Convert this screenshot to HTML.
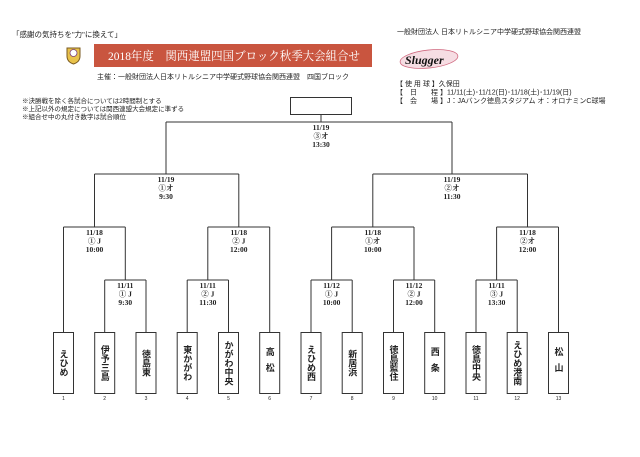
<!DOCTYPE html>
<html><head><meta charset="utf-8"><style>
body{margin:0;background:#fff;}
svg text{font-family:"Liberation Sans","Noto Sans CJK JP",sans-serif;fill:#222;}
.s{font-family:"Liberation Serif","Noto Serif CJK SC",serif !important;font-weight:bold;font-size:7.5px;}
.t{font-weight:bold;font-size:9px;}
</style></head><body>
<svg width="640" height="452" viewBox="0 0 640 452" xmlns="http://www.w3.org/2000/svg">
<rect width="640" height="452" fill="#fff"/>
<text x="12" y="37" font-size="7.5">「感謝の気持ちを"力"に換えて」</text>
<text x="397" y="34" font-size="7">一般財団法人 日本リトルシニア中学硬式野球協会関西連盟</text>
<path d="M67 48 h13 v8 q0 6 -6.5 8 q-6.5 -2 -6.5 -8z" fill="#e8c24a" stroke="#7a5a20" stroke-width="1"/>
<circle cx="73.5" cy="53" r="3.5" fill="#fff" stroke="#7a3a7a" stroke-width="0.8"/>
<rect x="94" y="44" width="278" height="23" fill="#c9553f"/>
<text x="108" y="60" font-size="12" textLength="252" lengthAdjust="spacingAndGlyphs" style="fill:#fff;font-family:'Liberation Serif','Noto Serif CJK SC',serif">2018年度　関西連盟四国ブロック秋季大会組合せ</text>
<text x="97" y="79" font-size="7">主催：一般財団法人日本リトルシニア中学硬式野球協会関西連盟　四国ブロック</text>
<ellipse cx="429" cy="59" rx="29" ry="9" fill="#f6dde3" stroke="#d06a80" stroke-width="0.8" transform="rotate(-6 429 59)"/>
<text x="405" y="64" font-size="12" style="font-style:italic;font-weight:bold;fill:#111;font-family:'Liberation Serif',serif">Slugger</text>
<text x="396" y="86" font-size="7">【 使 用 球 】久保田</text>
<text x="396" y="94.5" font-size="7">【　日　　程 】11/11(土)･11/12(日)･11/18(土)･11/19(日)</text>
<text x="396" y="103" font-size="7">【　会　　場 】J：JAバンク徳島スタジアム オ：オロナミンC球場</text>
<text x="22" y="103" font-size="6.5">※決勝戦を除く各試合については2時間制とする</text>
<text x="22" y="111" font-size="6.5">※上記以外の規定については関西連盟大会規定に準ずる</text>
<text x="22" y="119" font-size="6.5">※組合せ中の丸付き数字は試合順位</text>

<g stroke="#333" stroke-width="1" fill="none">
<rect x="290.5" y="97.5" width="61" height="17"/>
<path d="M321 115 V122 M166 122 H452 M166 122 V174 M452 122 V174"/>
<path d="M94.5 174 H238.8 M372.8 174 H527.5 M94.5 174 V227 M238.8 174 V227 M372.8 174 V227 M527.5 174 V227"/>
<path d="M63.5 227 H125.3 M207.8 227 H269.7 M331.6 227 H414 M496.6 227 H558.5"/>
<path d="M125.3 227 V280 M207.8 227 V280 M331.6 227 V280 M414 227 V280 M496.6 227 V280"/>
<path d="M104.7 280 H146 M187.2 280 H228.5 M311 280 H352.2 M393.5 280 H434.7 M476 280 H517.2"/>
<path d="M63.5 227 V332 M269.7 227 V332 M558.5 227 V332"/>
<path d="M104.7 280 V332 M146 280 V332 M187.2 280 V332 M228.5 280 V332 M311 280 V332 M352.2 280 V332 M393.5 280 V332 M434.7 280 V332 M476 280 V332 M517.2 280 V332"/>
<rect x="53.5" y="332.5" width="20" height="61"/><rect x="94.7" y="332.5" width="20" height="61"/><rect x="136" y="332.5" width="20" height="61"/><rect x="177.2" y="332.5" width="20" height="61"/><rect x="218.5" y="332.5" width="20" height="61"/><rect x="259.7" y="332.5" width="20" height="61"/><rect x="301" y="332.5" width="20" height="61"/><rect x="342.2" y="332.5" width="20" height="61"/><rect x="383.5" y="332.5" width="20" height="61"/><rect x="424.7" y="332.5" width="20" height="61"/><rect x="466" y="332.5" width="20" height="61"/><rect x="507.2" y="332.5" width="20" height="61"/><rect x="548.5" y="332.5" width="20" height="61"/>
</g>

<g text-anchor="middle" class="s">
<text class="s" x="321" y="130">11/19</text><text class="s" x="321" y="138.5">③オ</text><text class="s" x="321" y="147">13:30</text>
<text class="s" x="166" y="182">11/19</text><text class="s" x="166" y="190.5">①オ</text><text class="s" x="166" y="199">9:30</text>
<text class="s" x="452" y="182">11/19</text><text class="s" x="452" y="190.5">②オ</text><text class="s" x="452" y="199">11:30</text>
<text class="s" x="94.5" y="235">11/18</text><text class="s" x="94.5" y="243.5">① J</text><text class="s" x="94.5" y="252">10:00</text>
<text class="s" x="238.8" y="235">11/18</text><text class="s" x="238.8" y="243.5">② J</text><text class="s" x="238.8" y="252">12:00</text>
<text class="s" x="372.8" y="235">11/18</text><text class="s" x="372.8" y="243.5">①オ</text><text class="s" x="372.8" y="252">10:00</text>
<text class="s" x="527.5" y="235">11/18</text><text class="s" x="527.5" y="243.5">②オ</text><text class="s" x="527.5" y="252">12:00</text>
<text class="s" x="125.3" y="288">11/11</text><text class="s" x="125.3" y="296.5">① J</text><text class="s" x="125.3" y="305">9:30</text>
<text class="s" x="207.8" y="288">11/11</text><text class="s" x="207.8" y="296.5">② J</text><text class="s" x="207.8" y="305">11:30</text>
<text class="s" x="331.6" y="288">11/12</text><text class="s" x="331.6" y="296.5">① J</text><text class="s" x="331.6" y="305">10:00</text>
<text class="s" x="414" y="288">11/12</text><text class="s" x="414" y="296.5">② J</text><text class="s" x="414" y="305">12:00</text>
<text class="s" x="496.6" y="288">11/11</text><text class="s" x="496.6" y="296.5">③ J</text><text class="s" x="496.6" y="305">13:30</text>
</g>

<g text-anchor="middle" class="t" style="writing-mode:vertical-rl;glyph-orientation-vertical:0">
<text class="t" x="63.5" y="363">えひめ</text>
<text class="t" x="104.7" y="363">伊予三島</text>
<text class="t" x="146" y="363">徳島東</text>
<text class="t" x="187.2" y="363">東かがわ</text>
<text class="t" x="228.5" y="363">かがわ中央</text>
<text class="t" x="269.7" y="363" letter-spacing="7">高松</text>
<text class="t" x="311" y="363">えひめ西</text>
<text class="t" x="352.2" y="363">新居浜</text>
<text class="t" x="393.5" y="363">徳島藍住</text>
<text class="t" x="434.7" y="363" letter-spacing="7">西条</text>
<text class="t" x="476" y="363">徳島中央</text>
<text class="t" x="517.2" y="363">えひめ港南</text>
<text class="t" x="558.5" y="363" letter-spacing="7">松山</text>
</g>
<g text-anchor="middle" font-size="5">
<text x="63.5" y="400">1</text><text x="104.7" y="400">2</text><text x="146" y="400">3</text><text x="187.2" y="400">4</text><text x="228.5" y="400">5</text><text x="269.7" y="400">6</text><text x="311" y="400">7</text><text x="352.2" y="400">8</text><text x="393.5" y="400">9</text><text x="434.7" y="400">10</text><text x="476" y="400">11</text><text x="517.2" y="400">12</text><text x="558.5" y="400">13</text>
</g>
</svg>
</body></html>
